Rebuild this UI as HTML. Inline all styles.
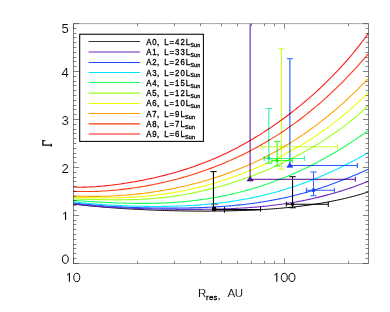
<!DOCTYPE html>
<html><head><meta charset="utf-8"><title>plot</title>
<style>
html,body{margin:0;padding:0;background:#fff;}
body{width:390px;height:312px;overflow:hidden;font-family:"Liberation Sans",sans-serif;}
svg{display:block;}
text{font-family:"Liberation Sans",sans-serif;fill:#000;}
</style></head><body>
<svg width="390" height="312" viewBox="0 0 390 312">
<rect width="390" height="312" fill="#fff"/>
<defs><filter id="gs" x="-5%" y="-5%" width="110%" height="110%" color-interpolation-filters="sRGB"><feColorMatrix type="saturate" values="1"/></filter><clipPath id="pc"><rect x="73.20" y="23.70" width="295.30" height="239.70"/></clipPath></defs>

<path d="M73.5,23.6 H368.5 M73.5,263.5 H368.5" fill="none" stroke="#777" stroke-width="0.65"/>
<path d="M73.5,23.6 V263.5 M368.5,23.6 V263.5" fill="none" stroke="#4a4a4a" stroke-width="0.7"/>
<path d="M73.5,263.50 h5.6 M368.5,263.50 h-5.6 M73.5,258.50 h2.9 M368.5,258.50 h-2.9 M73.5,253.50 h2.9 M368.5,253.50 h-2.9 M73.5,248.50 h2.9 M368.5,248.50 h-2.9 M73.5,244.50 h2.9 M368.5,244.50 h-2.9 M73.5,239.50 h2.9 M368.5,239.50 h-2.9 M73.5,234.50 h2.9 M368.5,234.50 h-2.9 M73.5,229.50 h2.9 M368.5,229.50 h-2.9 M73.5,224.50 h2.9 M368.5,224.50 h-2.9 M73.5,220.50 h2.9 M368.5,220.50 h-2.9 M73.5,215.50 h5.6 M368.5,215.50 h-5.6 M73.5,210.50 h2.9 M368.5,210.50 h-2.9 M73.5,205.50 h2.9 M368.5,205.50 h-2.9 M73.5,200.50 h2.9 M368.5,200.50 h-2.9 M73.5,196.50 h2.9 M368.5,196.50 h-2.9 M73.5,191.50 h2.9 M368.5,191.50 h-2.9 M73.5,186.50 h2.9 M368.5,186.50 h-2.9 M73.5,181.50 h2.9 M368.5,181.50 h-2.9 M73.5,177.50 h2.9 M368.5,177.50 h-2.9 M73.5,172.50 h2.9 M368.5,172.50 h-2.9 M73.5,167.50 h5.6 M368.5,167.50 h-5.6 M73.5,162.50 h2.9 M368.5,162.50 h-2.9 M73.5,157.50 h2.9 M368.5,157.50 h-2.9 M73.5,153.50 h2.9 M368.5,153.50 h-2.9 M73.5,148.50 h2.9 M368.5,148.50 h-2.9 M73.5,143.50 h2.9 M368.5,143.50 h-2.9 M73.5,138.50 h2.9 M368.5,138.50 h-2.9 M73.5,133.50 h2.9 M368.5,133.50 h-2.9 M73.5,129.50 h2.9 M368.5,129.50 h-2.9 M73.5,124.50 h2.9 M368.5,124.50 h-2.9 M73.5,119.50 h5.6 M368.5,119.50 h-5.6 M73.5,114.50 h2.9 M368.5,114.50 h-2.9 M73.5,109.50 h2.9 M368.5,109.50 h-2.9 M73.5,105.50 h2.9 M368.5,105.50 h-2.9 M73.5,100.50 h2.9 M368.5,100.50 h-2.9 M73.5,95.50 h2.9 M368.5,95.50 h-2.9 M73.5,90.50 h2.9 M368.5,90.50 h-2.9 M73.5,85.50 h2.9 M368.5,85.50 h-2.9 M73.5,81.50 h2.9 M368.5,81.50 h-2.9 M73.5,76.50 h2.9 M368.5,76.50 h-2.9 M73.5,71.50 h5.6 M368.5,71.50 h-5.6 M73.5,66.50 h2.9 M368.5,66.50 h-2.9 M73.5,61.50 h2.9 M368.5,61.50 h-2.9 M73.5,57.50 h2.9 M368.5,57.50 h-2.9 M73.5,52.50 h2.9 M368.5,52.50 h-2.9 M73.5,47.50 h2.9 M368.5,47.50 h-2.9 M73.5,42.50 h2.9 M368.5,42.50 h-2.9 M73.5,37.50 h2.9 M368.5,37.50 h-2.9 M73.5,33.50 h2.9 M368.5,33.50 h-2.9 M73.5,28.50 h2.9 M368.5,28.50 h-2.9 M73.5,23.60 h5.6 M368.5,23.60 h-5.6 M73.50,263.5 v-5.2 M73.50,23.6 v5.2 M137.50,263.5 v-2.6 M137.50,23.6 v2.6 M174.50,263.5 v-2.6 M174.50,23.6 v2.6 M200.50,263.5 v-2.6 M200.50,23.6 v2.6 M221.50,263.5 v-2.6 M221.50,23.6 v2.6 M237.50,263.5 v-2.6 M237.50,23.6 v2.6 M251.50,263.5 v-2.6 M251.50,23.6 v2.6 M264.50,263.5 v-2.6 M264.50,23.6 v2.6 M274.50,263.5 v-2.6 M274.50,23.6 v2.6 M284.50,263.5 v-5.2 M284.50,23.6 v5.2 M348.50,263.5 v-2.6 M348.50,23.6 v2.6" stroke="#333" stroke-width="0.6" fill="none"/>
<g clip-path="url(#pc)">
<g stroke="#000" stroke-width="1.1" fill="none"><path d="M213.45,171.6 V209.4"/><path d="M210.35,171.6 H216.54999999999998" stroke-width="1.0"/></g>
<path d="M211.1,204.2 H218.1" stroke="#445" stroke-width="0.8"/>
<g stroke="#000" stroke-width="1.1" fill="none"><path d="M292.55,176.7 V204.25"/><path d="M289.35,176.7 H295.75" stroke-width="1.0"/><path d="M292.55,204.25 V207.8"/><path d="M289.35,207.8 H295.75" stroke-width="1.0"/></g>
<g stroke="#7a3aae" stroke-width="1.25" fill="none"><path d="M250.15,20 V179.3"/><path d="M250.15,179.3 H355.4"/><path d="M355.4,176.8 V181.8" stroke-width="1.25"/></g>
<g stroke="#2f58ff" stroke-width="1.15" fill="none"><path d="M289.85,165.5 H357.3"/><path d="M357.3,163.0 V168.0"/></g>
<g stroke="#5a82ff" stroke-width="1.5" fill="none"><path d="M289.85,58.6 V165.5"/><path d="M286.75,58.6 H292.95000000000005" stroke-width="1.2"/></g>
<g stroke="#2f60ff" stroke-width="1.05" fill="none"><path d="M313.5,172.0 V190.2"/><path d="M310.4,172.0 H316.6" stroke-width="1.05"/><path d="M313.5,190.2 V195.8"/><path d="M310.4,195.8 H316.6" stroke-width="1.05"/><path d="M306.4,190.2 H313.5"/><path d="M306.4,187.7 V192.7" stroke-width="1.05"/><path d="M313.5,190.2 H334.4"/><path d="M334.4,187.7 V192.7" stroke-width="1.05"/></g>
<g stroke="#35f2a6" stroke-width="1.12" fill="none"><path d="M268.85,108.5 V158.0"/><path d="M265.75,108.5 H271.95000000000005" stroke-width="1.12"/><path d="M268.85,158.0 V163.2"/><path d="M265.75,163.2 H271.95000000000005" stroke-width="1.12"/><path d="M264.2,158.45 H268.85"/><path d="M264.2,155.95 V160.95" stroke-width="1.12"/><path d="M268.85,158.45 H304.4"/><path d="M304.4,155.95 V160.95" stroke-width="1.12"/></g>
<g stroke="#2cff2c" stroke-width="1.12" fill="none"><path d="M277.15,141.5 V160.6"/><path d="M274.04999999999995,141.5 H280.25" stroke-width="1.12"/><path d="M277.15,160.6 V166.0"/><path d="M274.04999999999995,166.0 H280.25" stroke-width="1.12"/><path d="M271.9,160.5 H277.15"/><path d="M271.9,158.0 V163.0" stroke-width="1.12"/><path d="M277.15,160.5 H292.4"/><path d="M292.4,158.0 V163.0" stroke-width="1.12"/></g>
<g stroke="#c8ff2a" stroke-width="1.05" fill="none"><path d="M281.45,48.7 V146.8"/><path d="M278.34999999999997,48.7 H284.55" stroke-width="1.05"/><path d="M281.45,146.8 V169.15"/><path d="M278.34999999999997,169.15 H284.55" stroke-width="1.05"/><path d="M261.6,146.8 H281.45"/><path d="M261.6,144.3 V149.3" stroke-width="1.05"/><path d="M281.45,146.8 H337.4"/><path d="M337.4,144.3 V149.3" stroke-width="1.05"/></g>
</g>
<g clip-path="url(#pc)" fill="none" stroke-linejoin="round" style="mix-blend-mode:multiply">
<path d="M73.20,204.08 L75.18,204.31 L77.16,204.54 L79.15,204.76 L81.13,204.97 L83.11,205.19 L85.09,205.39 L87.07,205.59 L89.06,205.79 L91.04,205.98 L93.02,206.17 L95.00,206.36 L96.98,206.54 L98.96,206.71 L100.95,206.88 L102.93,207.05 L104.91,207.21 L106.89,207.37 L108.87,207.53 L110.86,207.68 L112.84,207.83 L114.82,207.97 L116.80,208.11 L118.78,208.25 L120.77,208.38 L122.75,208.51 L124.73,208.63 L126.71,208.76 L128.69,208.87 L130.67,208.99 L132.66,209.10 L134.64,209.21 L136.62,209.32 L138.60,209.42 L140.58,209.52 L142.57,209.61 L144.55,209.71 L146.53,209.80 L148.51,209.88 L150.49,209.97 L152.48,210.05 L154.46,210.12 L156.44,210.20 L158.42,210.27 L160.40,210.34 L162.38,210.40 L164.37,210.47 L166.35,210.52 L168.33,210.58 L170.31,210.63 L172.29,210.69 L174.28,210.73 L176.26,210.78 L178.24,210.82 L180.22,210.86 L182.20,210.90 L184.19,210.93 L186.17,210.96 L188.15,210.99 L190.13,211.01 L192.11,211.03 L194.09,211.05 L196.08,211.07 L198.06,211.08 L200.04,211.09 L202.02,211.09 L204.00,211.10 L205.99,211.09 L207.97,211.09 L209.95,211.08 L211.93,211.07 L213.91,211.06 L215.90,211.04 L217.88,211.02 L219.86,211.00 L221.84,210.97 L223.82,210.94 L225.80,210.91 L227.79,210.87 L229.77,210.83 L231.75,210.78 L233.73,210.73 L235.71,210.68 L237.70,210.62 L239.68,210.56 L241.66,210.50 L243.64,210.43 L245.62,210.35 L247.61,210.27 L249.59,210.19 L251.57,210.10 L253.55,210.01 L255.53,209.91 L257.51,209.81 L259.50,209.70 L261.48,209.59 L263.46,209.47 L265.44,209.35 L267.42,209.22 L269.41,209.09 L271.39,208.95 L273.37,208.80 L275.35,208.65 L277.33,208.50 L279.32,208.33 L281.30,208.16 L283.28,207.99 L285.26,207.81 L287.24,207.62 L289.22,207.42 L291.21,207.22 L293.19,207.01 L295.17,206.79 L297.15,206.57 L299.13,206.33 L301.12,206.09 L303.10,205.84 L305.08,205.59 L307.06,205.32 L309.04,205.05 L311.03,204.77 L313.01,204.48 L314.99,204.18 L316.97,203.87 L318.95,203.55 L320.93,203.22 L322.92,202.89 L324.90,202.54 L326.88,202.18 L328.86,201.81 L330.84,201.43 L332.83,201.04 L334.81,200.64 L336.79,200.23 L338.77,199.81 L340.75,199.37 L342.74,198.93 L344.72,198.47 L346.70,197.99 L348.68,197.51 L350.66,197.01 L352.64,196.50 L354.63,195.97 L356.61,195.44 L358.59,194.88 L360.57,194.32 L362.55,193.74 L364.54,193.14 L366.52,192.53 L368.50,191.90" stroke="#000000" stroke-width="1.0"/>
<path d="M73.20,203.47 L75.18,203.75 L77.16,204.02 L79.15,204.28 L81.13,204.53 L83.11,204.77 L85.09,205.00 L87.07,205.22 L89.06,205.43 L91.04,205.63 L93.02,205.82 L95.00,206.00 L96.98,206.18 L98.96,206.34 L100.95,206.50 L102.93,206.66 L104.91,206.81 L106.89,206.95 L108.87,207.08 L110.86,207.21 L112.84,207.33 L114.82,207.45 L116.80,207.56 L118.78,207.67 L120.77,207.78 L122.75,207.87 L124.73,207.97 L126.71,208.06 L128.69,208.15 L130.67,208.23 L132.66,208.31 L134.64,208.39 L136.62,208.46 L138.60,208.53 L140.58,208.60 L142.57,208.66 L144.55,208.72 L146.53,208.78 L148.51,208.83 L150.49,208.89 L152.48,208.94 L154.46,208.98 L156.44,209.03 L158.42,209.07 L160.40,209.11 L162.38,209.15 L164.37,209.18 L166.35,209.22 L168.33,209.25 L170.31,209.27 L172.29,209.30 L174.28,209.32 L176.26,209.34 L178.24,209.36 L180.22,209.38 L182.20,209.39 L184.19,209.40 L186.17,209.41 L188.15,209.41 L190.13,209.41 L192.11,209.41 L194.09,209.40 L196.08,209.40 L198.06,209.39 L200.04,209.37 L202.02,209.35 L204.00,209.33 L205.99,209.31 L207.97,209.28 L209.95,209.25 L211.93,209.21 L213.91,209.17 L215.90,209.12 L217.88,209.07 L219.86,209.02 L221.84,208.96 L223.82,208.90 L225.80,208.83 L227.79,208.75 L229.77,208.67 L231.75,208.59 L233.73,208.50 L235.71,208.40 L237.70,208.30 L239.68,208.20 L241.66,208.08 L243.64,207.96 L245.62,207.84 L247.61,207.70 L249.59,207.56 L251.57,207.41 L253.55,207.26 L255.53,207.10 L257.51,206.93 L259.50,206.75 L261.48,206.57 L263.46,206.38 L265.44,206.18 L267.42,205.97 L269.41,205.75 L271.39,205.52 L273.37,205.29 L275.35,205.04 L277.33,204.79 L279.32,204.53 L281.30,204.26 L283.28,203.98 L285.26,203.69 L287.24,203.39 L289.22,203.08 L291.21,202.75 L293.19,202.42 L295.17,202.08 L297.15,201.73 L299.13,201.37 L301.12,200.99 L303.10,200.61 L305.08,200.21 L307.06,199.81 L309.04,199.39 L311.03,198.96 L313.01,198.52 L314.99,198.07 L316.97,197.61 L318.95,197.13 L320.93,196.64 L322.92,196.14 L324.90,195.63 L326.88,195.11 L328.86,194.57 L330.84,194.03 L332.83,193.47 L334.81,192.90 L336.79,192.31 L338.77,191.72 L340.75,191.11 L342.74,190.49 L344.72,189.85 L346.70,189.21 L348.68,188.55 L350.66,187.88 L352.64,187.20 L354.63,186.50 L356.61,185.79 L358.59,185.07 L360.57,184.34 L362.55,183.60 L364.54,182.84 L366.52,182.07 L368.50,181.29" stroke="#6d28c0" stroke-width="1.08"/>
<path d="M73.20,202.67 L75.18,202.94 L77.16,203.20 L79.15,203.46 L81.13,203.70 L83.11,203.93 L85.09,204.15 L87.07,204.37 L89.06,204.57 L91.04,204.77 L93.02,204.96 L95.00,205.14 L96.98,205.31 L98.96,205.48 L100.95,205.64 L102.93,205.79 L104.91,205.94 L106.89,206.08 L108.87,206.22 L110.86,206.34 L112.84,206.47 L114.82,206.58 L116.80,206.70 L118.78,206.80 L120.77,206.91 L122.75,207.01 L124.73,207.10 L126.71,207.19 L128.69,207.27 L130.67,207.35 L132.66,207.43 L134.64,207.50 L136.62,207.57 L138.60,207.63 L140.58,207.69 L142.57,207.74 L144.55,207.80 L146.53,207.84 L148.51,207.89 L150.49,207.93 L152.48,207.96 L154.46,208.00 L156.44,208.03 L158.42,208.05 L160.40,208.07 L162.38,208.09 L164.37,208.10 L166.35,208.11 L168.33,208.12 L170.31,208.12 L172.29,208.12 L174.28,208.11 L176.26,208.10 L178.24,208.08 L180.22,208.06 L182.20,208.04 L184.19,208.01 L186.17,207.98 L188.15,207.94 L190.13,207.90 L192.11,207.85 L194.09,207.80 L196.08,207.74 L198.06,207.68 L200.04,207.61 L202.02,207.54 L204.00,207.46 L205.99,207.37 L207.97,207.28 L209.95,207.18 L211.93,207.08 L213.91,206.97 L215.90,206.85 L217.88,206.73 L219.86,206.60 L221.84,206.46 L223.82,206.32 L225.80,206.17 L227.79,206.01 L229.77,205.85 L231.75,205.67 L233.73,205.49 L235.71,205.30 L237.70,205.11 L239.68,204.90 L241.66,204.69 L243.64,204.47 L245.62,204.24 L247.61,204.00 L249.59,203.75 L251.57,203.49 L253.55,203.23 L255.53,202.95 L257.51,202.67 L259.50,202.37 L261.48,202.07 L263.46,201.75 L265.44,201.43 L267.42,201.09 L269.41,200.75 L271.39,200.39 L273.37,200.03 L275.35,199.65 L277.33,199.27 L279.32,198.87 L281.30,198.46 L283.28,198.04 L285.26,197.61 L287.24,197.17 L289.22,196.71 L291.21,196.25 L293.19,195.77 L295.17,195.29 L297.15,194.79 L299.13,194.28 L301.12,193.75 L303.10,193.22 L305.08,192.68 L307.06,192.12 L309.04,191.55 L311.03,190.97 L313.01,190.38 L314.99,189.77 L316.97,189.15 L318.95,188.53 L320.93,187.89 L322.92,187.23 L324.90,186.57 L326.88,185.90 L328.86,185.21 L330.84,184.51 L332.83,183.80 L334.81,183.08 L336.79,182.35 L338.77,181.60 L340.75,180.85 L342.74,180.08 L344.72,179.31 L346.70,178.52 L348.68,177.72 L350.66,176.91 L352.64,176.09 L354.63,175.26 L356.61,174.42 L358.59,173.57 L360.57,172.72 L362.55,171.85 L364.54,170.97 L366.52,170.09 L368.50,169.19" stroke="#1f4dff" stroke-width="1.08"/>
<path d="M73.20,201.89 L75.18,202.11 L77.16,202.32 L79.15,202.52 L81.13,202.72 L83.11,202.92 L85.09,203.10 L87.07,203.29 L89.06,203.46 L91.04,203.63 L93.02,203.80 L95.00,203.96 L96.98,204.11 L98.96,204.26 L100.95,204.41 L102.93,204.55 L104.91,204.68 L106.89,204.81 L108.87,204.94 L110.86,205.06 L112.84,205.17 L114.82,205.28 L116.80,205.39 L118.78,205.49 L120.77,205.58 L122.75,205.68 L124.73,205.76 L126.71,205.84 L128.69,205.92 L130.67,205.99 L132.66,206.05 L134.64,206.12 L136.62,206.17 L138.60,206.22 L140.58,206.27 L142.57,206.31 L144.55,206.34 L146.53,206.37 L148.51,206.40 L150.49,206.42 L152.48,206.43 L154.46,206.44 L156.44,206.44 L158.42,206.44 L160.40,206.43 L162.38,206.41 L164.37,206.39 L166.35,206.37 L168.33,206.33 L170.31,206.29 L172.29,206.25 L174.28,206.20 L176.26,206.14 L178.24,206.07 L180.22,206.00 L182.20,205.92 L184.19,205.83 L186.17,205.74 L188.15,205.64 L190.13,205.53 L192.11,205.42 L194.09,205.29 L196.08,205.16 L198.06,205.03 L200.04,204.88 L202.02,204.72 L204.00,204.56 L205.99,204.39 L207.97,204.21 L209.95,204.02 L211.93,203.83 L213.91,203.62 L215.90,203.41 L217.88,203.18 L219.86,202.95 L221.84,202.71 L223.82,202.46 L225.80,202.20 L227.79,201.93 L229.77,201.65 L231.75,201.36 L233.73,201.06 L235.71,200.75 L237.70,200.43 L239.68,200.09 L241.66,199.75 L243.64,199.40 L245.62,199.04 L247.61,198.66 L249.59,198.28 L251.57,197.88 L253.55,197.47 L255.53,197.06 L257.51,196.63 L259.50,196.18 L261.48,195.73 L263.46,195.27 L265.44,194.79 L267.42,194.30 L269.41,193.80 L271.39,193.29 L273.37,192.76 L275.35,192.22 L277.33,191.67 L279.32,191.11 L281.30,190.54 L283.28,189.95 L285.26,189.35 L287.24,188.74 L289.22,188.11 L291.21,187.47 L293.19,186.82 L295.17,186.16 L297.15,185.48 L299.13,184.79 L301.12,184.09 L303.10,183.37 L305.08,182.64 L307.06,181.90 L309.04,181.14 L311.03,180.37 L313.01,179.59 L314.99,178.80 L316.97,177.99 L318.95,177.17 L320.93,176.33 L322.92,175.48 L324.90,174.62 L326.88,173.75 L328.86,172.86 L330.84,171.96 L332.83,171.05 L334.81,170.12 L336.79,169.19 L338.77,168.23 L340.75,167.27 L342.74,166.29 L344.72,165.31 L346.70,164.30 L348.68,163.29 L350.66,162.26 L352.64,161.23 L354.63,160.18 L356.61,159.11 L358.59,158.04 L360.57,156.95 L362.55,155.86 L364.54,154.75 L366.52,153.63 L368.50,152.50" stroke="#00e6ff" stroke-width="1.08"/>
<path d="M73.20,200.40 L75.18,200.53 L77.16,200.66 L79.15,200.79 L81.13,200.92 L83.11,201.05 L85.09,201.17 L87.07,201.30 L89.06,201.42 L91.04,201.54 L93.02,201.66 L95.00,201.78 L96.98,201.90 L98.96,202.01 L100.95,202.12 L102.93,202.23 L104.91,202.33 L106.89,202.43 L108.87,202.53 L110.86,202.62 L112.84,202.71 L114.82,202.79 L116.80,202.87 L118.78,202.95 L120.77,203.02 L122.75,203.08 L124.73,203.14 L126.71,203.19 L128.69,203.24 L130.67,203.28 L132.66,203.32 L134.64,203.35 L136.62,203.37 L138.60,203.39 L140.58,203.40 L142.57,203.40 L144.55,203.40 L146.53,203.39 L148.51,203.37 L150.49,203.34 L152.48,203.31 L154.46,203.27 L156.44,203.22 L158.42,203.16 L160.40,203.10 L162.38,203.02 L164.37,202.94 L166.35,202.85 L168.33,202.75 L170.31,202.64 L172.29,202.52 L174.28,202.39 L176.26,202.26 L178.24,202.11 L180.22,201.95 L182.20,201.79 L184.19,201.61 L186.17,201.43 L188.15,201.23 L190.13,201.02 L192.11,200.81 L194.09,200.58 L196.08,200.34 L198.06,200.09 L200.04,199.83 L202.02,199.56 L204.00,199.28 L205.99,198.99 L207.97,198.69 L209.95,198.37 L211.93,198.05 L213.91,197.71 L215.90,197.36 L217.88,197.00 L219.86,196.62 L221.84,196.24 L223.82,195.84 L225.80,195.43 L227.79,195.01 L229.77,194.58 L231.75,194.13 L233.73,193.68 L235.71,193.21 L237.70,192.72 L239.68,192.23 L241.66,191.72 L243.64,191.20 L245.62,190.66 L247.61,190.12 L249.59,189.56 L251.57,188.99 L253.55,188.40 L255.53,187.80 L257.51,187.19 L259.50,186.56 L261.48,185.93 L263.46,185.27 L265.44,184.61 L267.42,183.93 L269.41,183.24 L271.39,182.53 L273.37,181.81 L275.35,181.08 L277.33,180.33 L279.32,179.57 L281.30,178.79 L283.28,178.01 L285.26,177.20 L287.24,176.39 L289.22,175.56 L291.21,174.71 L293.19,173.85 L295.17,172.98 L297.15,172.09 L299.13,171.19 L301.12,170.28 L303.10,169.35 L305.08,168.40 L307.06,167.44 L309.04,166.47 L311.03,165.48 L313.01,164.48 L314.99,163.47 L316.97,162.44 L318.95,161.39 L320.93,160.33 L322.92,159.26 L324.90,158.17 L326.88,157.07 L328.86,155.95 L330.84,154.82 L332.83,153.67 L334.81,152.51 L336.79,151.33 L338.77,150.14 L340.75,148.93 L342.74,147.71 L344.72,146.48 L346.70,145.23 L348.68,143.96 L350.66,142.68 L352.64,141.39 L354.63,140.08 L356.61,138.76 L358.59,137.42 L360.57,136.07 L362.55,134.70 L364.54,133.31 L366.52,131.92 L368.50,130.50" stroke="#19ff59" stroke-width="1.08"/>
<path d="M73.20,198.91 L75.18,198.95 L77.16,199.00 L79.15,199.05 L81.13,199.10 L83.11,199.15 L85.09,199.21 L87.07,199.27 L89.06,199.32 L91.04,199.38 L93.02,199.43 L95.00,199.49 L96.98,199.54 L98.96,199.59 L100.95,199.64 L102.93,199.68 L104.91,199.72 L106.89,199.76 L108.87,199.79 L110.86,199.81 L112.84,199.83 L114.82,199.85 L116.80,199.85 L118.78,199.85 L120.77,199.85 L122.75,199.83 L124.73,199.81 L126.71,199.78 L128.69,199.75 L130.67,199.70 L132.66,199.65 L134.64,199.58 L136.62,199.51 L138.60,199.43 L140.58,199.33 L142.57,199.23 L144.55,199.12 L146.53,199.00 L148.51,198.87 L150.49,198.72 L152.48,198.57 L154.46,198.40 L156.44,198.23 L158.42,198.04 L160.40,197.85 L162.38,197.64 L164.37,197.42 L166.35,197.19 L168.33,196.94 L170.31,196.69 L172.29,196.42 L174.28,196.14 L176.26,195.86 L178.24,195.55 L180.22,195.24 L182.20,194.92 L184.19,194.58 L186.17,194.23 L188.15,193.87 L190.13,193.50 L192.11,193.12 L194.09,192.72 L196.08,192.31 L198.06,191.90 L200.04,191.46 L202.02,191.02 L204.00,190.57 L205.99,190.10 L207.97,189.62 L209.95,189.13 L211.93,188.63 L213.91,188.12 L215.90,187.59 L217.88,187.05 L219.86,186.51 L221.84,185.95 L223.82,185.37 L225.80,184.79 L227.79,184.19 L229.77,183.59 L231.75,182.97 L233.73,182.34 L235.71,181.70 L237.70,181.04 L239.68,180.38 L241.66,179.70 L243.64,179.01 L245.62,178.31 L247.61,177.60 L249.59,176.88 L251.57,176.14 L253.55,175.39 L255.53,174.63 L257.51,173.86 L259.50,173.08 L261.48,172.28 L263.46,171.48 L265.44,170.66 L267.42,169.82 L269.41,168.98 L271.39,168.12 L273.37,167.25 L275.35,166.37 L277.33,165.48 L279.32,164.57 L281.30,163.65 L283.28,162.71 L285.26,161.76 L287.24,160.80 L289.22,159.83 L291.21,158.84 L293.19,157.83 L295.17,156.81 L297.15,155.78 L299.13,154.73 L301.12,153.67 L303.10,152.59 L305.08,151.49 L307.06,150.38 L309.04,149.25 L311.03,148.11 L313.01,146.94 L314.99,145.76 L316.97,144.57 L318.95,143.35 L320.93,142.11 L322.92,140.86 L324.90,139.58 L326.88,138.29 L328.86,136.97 L330.84,135.64 L332.83,134.28 L334.81,132.90 L336.79,131.49 L338.77,130.07 L340.75,128.62 L342.74,127.14 L344.72,125.64 L346.70,124.11 L348.68,122.56 L350.66,120.98 L352.64,119.37 L354.63,117.73 L356.61,116.07 L358.59,114.37 L360.57,112.64 L362.55,110.88 L364.54,109.09 L366.52,107.26 L368.50,105.40" stroke="#99ff1a" stroke-width="1.08"/>
<path d="M73.20,197.31 L75.18,197.36 L77.16,197.42 L79.15,197.46 L81.13,197.51 L83.11,197.56 L85.09,197.60 L87.07,197.65 L89.06,197.69 L91.04,197.72 L93.02,197.75 L95.00,197.78 L96.98,197.80 L98.96,197.82 L100.95,197.83 L102.93,197.84 L104.91,197.84 L106.89,197.84 L108.87,197.83 L110.86,197.81 L112.84,197.79 L114.82,197.75 L116.80,197.71 L118.78,197.67 L120.77,197.61 L122.75,197.55 L124.73,197.47 L126.71,197.39 L128.69,197.30 L130.67,197.20 L132.66,197.09 L134.64,196.98 L136.62,196.85 L138.60,196.71 L140.58,196.57 L142.57,196.41 L144.55,196.24 L146.53,196.06 L148.51,195.87 L150.49,195.68 L152.48,195.47 L154.46,195.24 L156.44,195.01 L158.42,194.77 L160.40,194.52 L162.38,194.25 L164.37,193.98 L166.35,193.69 L168.33,193.39 L170.31,193.08 L172.29,192.76 L174.28,192.43 L176.26,192.08 L178.24,191.72 L180.22,191.36 L182.20,190.98 L184.19,190.58 L186.17,190.18 L188.15,189.76 L190.13,189.34 L192.11,188.90 L194.09,188.44 L196.08,187.98 L198.06,187.51 L200.04,187.02 L202.02,186.52 L204.00,186.01 L205.99,185.48 L207.97,184.94 L209.95,184.40 L211.93,183.83 L213.91,183.26 L215.90,182.68 L217.88,182.08 L219.86,181.47 L221.84,180.85 L223.82,180.21 L225.80,179.56 L227.79,178.90 L229.77,178.23 L231.75,177.55 L233.73,176.85 L235.71,176.14 L237.70,175.42 L239.68,174.68 L241.66,173.93 L243.64,173.17 L245.62,172.40 L247.61,171.61 L249.59,170.81 L251.57,170.00 L253.55,169.17 L255.53,168.33 L257.51,167.48 L259.50,166.61 L261.48,165.73 L263.46,164.84 L265.44,163.93 L267.42,163.01 L269.41,162.08 L271.39,161.13 L273.37,160.17 L275.35,159.19 L277.33,158.20 L279.32,157.19 L281.30,156.17 L283.28,155.13 L285.26,154.08 L287.24,153.01 L289.22,151.93 L291.21,150.83 L293.19,149.72 L295.17,148.59 L297.15,147.44 L299.13,146.28 L301.12,145.10 L303.10,143.90 L305.08,142.69 L307.06,141.46 L309.04,140.20 L311.03,138.94 L313.01,137.65 L314.99,136.34 L316.97,135.02 L318.95,133.67 L320.93,132.31 L322.92,130.92 L324.90,129.52 L326.88,128.09 L328.86,126.64 L330.84,125.17 L332.83,123.68 L334.81,122.16 L336.79,120.62 L338.77,119.06 L340.75,117.47 L342.74,115.86 L344.72,114.22 L346.70,112.56 L348.68,110.87 L350.66,109.16 L352.64,107.41 L354.63,105.64 L356.61,103.84 L358.59,102.01 L360.57,100.15 L362.55,98.26 L364.54,96.34 L366.52,94.39 L368.50,92.40" stroke="#eaff00" stroke-width="1.08"/>
<path d="M73.20,195.81 L75.18,195.92 L77.16,196.01 L79.15,196.10 L81.13,196.17 L83.11,196.23 L85.09,196.28 L87.07,196.32 L89.06,196.35 L91.04,196.37 L93.02,196.38 L95.00,196.38 L96.98,196.37 L98.96,196.35 L100.95,196.32 L102.93,196.28 L104.91,196.23 L106.89,196.17 L108.87,196.10 L110.86,196.02 L112.84,195.93 L114.82,195.83 L116.80,195.72 L118.78,195.60 L120.77,195.47 L122.75,195.33 L124.73,195.18 L126.71,195.03 L128.69,194.86 L130.67,194.68 L132.66,194.50 L134.64,194.30 L136.62,194.10 L138.60,193.88 L140.58,193.66 L142.57,193.42 L144.55,193.18 L146.53,192.92 L148.51,192.66 L150.49,192.39 L152.48,192.10 L154.46,191.81 L156.44,191.51 L158.42,191.20 L160.40,190.87 L162.38,190.54 L164.37,190.20 L166.35,189.84 L168.33,189.48 L170.31,189.11 L172.29,188.72 L174.28,188.33 L176.26,187.92 L178.24,187.51 L180.22,187.08 L182.20,186.64 L184.19,186.19 L186.17,185.74 L188.15,185.26 L190.13,184.78 L192.11,184.29 L194.09,183.79 L196.08,183.27 L198.06,182.74 L200.04,182.20 L202.02,181.65 L204.00,181.09 L205.99,180.51 L207.97,179.92 L209.95,179.32 L211.93,178.71 L213.91,178.09 L215.90,177.45 L217.88,176.80 L219.86,176.13 L221.84,175.46 L223.82,174.77 L225.80,174.06 L227.79,173.35 L229.77,172.62 L231.75,171.87 L233.73,171.11 L235.71,170.34 L237.70,169.56 L239.68,168.75 L241.66,167.94 L243.64,167.11 L245.62,166.26 L247.61,165.40 L249.59,164.53 L251.57,163.64 L253.55,162.73 L255.53,161.81 L257.51,160.87 L259.50,159.92 L261.48,158.95 L263.46,157.96 L265.44,156.96 L267.42,155.94 L269.41,154.91 L271.39,153.85 L273.37,152.79 L275.35,151.70 L277.33,150.60 L279.32,149.47 L281.30,148.33 L283.28,147.18 L285.26,146.00 L287.24,144.81 L289.22,143.60 L291.21,142.37 L293.19,141.12 L295.17,139.85 L297.15,138.57 L299.13,137.26 L301.12,135.94 L303.10,134.59 L305.08,133.23 L307.06,131.84 L309.04,130.44 L311.03,129.02 L313.01,127.57 L314.99,126.11 L316.97,124.62 L318.95,123.12 L320.93,121.59 L322.92,120.04 L324.90,118.47 L326.88,116.88 L328.86,115.27 L330.84,113.64 L332.83,111.98 L334.81,110.31 L336.79,108.61 L338.77,106.89 L340.75,105.14 L342.74,103.37 L344.72,101.59 L346.70,99.77 L348.68,97.94 L350.66,96.08 L352.64,94.20 L354.63,92.30 L356.61,90.37 L358.59,88.42 L360.57,86.44 L362.55,84.44 L364.54,82.42 L366.52,80.37 L368.50,78.30" stroke="#ffa000" stroke-width="1.08"/>
<path d="M73.20,191.30 L75.18,191.38 L77.16,191.45 L79.15,191.50 L81.13,191.53 L83.11,191.56 L85.09,191.57 L87.07,191.56 L89.06,191.55 L91.04,191.52 L93.02,191.47 L95.00,191.42 L96.98,191.35 L98.96,191.27 L100.95,191.17 L102.93,191.07 L104.91,190.95 L106.89,190.82 L108.87,190.68 L110.86,190.53 L112.84,190.36 L114.82,190.19 L116.80,190.00 L118.78,189.80 L120.77,189.59 L122.75,189.37 L124.73,189.14 L126.71,188.89 L128.69,188.64 L130.67,188.37 L132.66,188.09 L134.64,187.81 L136.62,187.51 L138.60,187.20 L140.58,186.88 L142.57,186.55 L144.55,186.21 L146.53,185.85 L148.51,185.49 L150.49,185.11 L152.48,184.73 L154.46,184.33 L156.44,183.93 L158.42,183.51 L160.40,183.08 L162.38,182.64 L164.37,182.19 L166.35,181.72 L168.33,181.25 L170.31,180.77 L172.29,180.27 L174.28,179.76 L176.26,179.25 L178.24,178.72 L180.22,178.18 L182.20,177.62 L184.19,177.06 L186.17,176.48 L188.15,175.90 L190.13,175.30 L192.11,174.68 L194.09,174.06 L196.08,173.42 L198.06,172.77 L200.04,172.11 L202.02,171.44 L204.00,170.75 L205.99,170.06 L207.97,169.34 L209.95,168.62 L211.93,167.88 L213.91,167.13 L215.90,166.37 L217.88,165.59 L219.86,164.79 L221.84,163.99 L223.82,163.17 L225.80,162.34 L227.79,161.49 L229.77,160.62 L231.75,159.75 L233.73,158.85 L235.71,157.95 L237.70,157.03 L239.68,156.09 L241.66,155.14 L243.64,154.17 L245.62,153.18 L247.61,152.18 L249.59,151.17 L251.57,150.13 L253.55,149.09 L255.53,148.02 L257.51,146.94 L259.50,145.84 L261.48,144.72 L263.46,143.59 L265.44,142.44 L267.42,141.27 L269.41,140.08 L271.39,138.88 L273.37,137.65 L275.35,136.41 L277.33,135.15 L279.32,133.87 L281.30,132.57 L283.28,131.25 L285.26,129.92 L287.24,128.56 L289.22,127.18 L291.21,125.79 L293.19,124.37 L295.17,122.93 L297.15,121.47 L299.13,119.99 L301.12,118.49 L303.10,116.97 L305.08,115.43 L307.06,113.86 L309.04,112.28 L311.03,110.67 L313.01,109.04 L314.99,107.38 L316.97,105.71 L318.95,104.01 L320.93,102.29 L322.92,100.54 L324.90,98.78 L326.88,96.98 L328.86,95.17 L330.84,93.33 L332.83,91.46 L334.81,89.58 L336.79,87.66 L338.77,85.73 L340.75,83.76 L342.74,81.78 L344.72,79.76 L346.70,77.72 L348.68,75.66 L350.66,73.57 L352.64,71.45 L354.63,69.31 L356.61,67.14 L358.59,64.95 L360.57,62.72 L362.55,60.48 L364.54,58.20 L366.52,55.90 L368.50,53.57" stroke="#ff3a10" stroke-width="1.08"/>
<path d="M73.20,187.01 L75.18,187.08 L77.16,187.14 L79.15,187.17 L81.13,187.17 L83.11,187.16 L85.09,187.12 L87.07,187.07 L89.06,187.00 L91.04,186.91 L93.02,186.80 L95.00,186.68 L96.98,186.54 L98.96,186.39 L100.95,186.22 L102.93,186.04 L104.91,185.85 L106.89,185.65 L108.87,185.43 L110.86,185.21 L112.84,184.97 L114.82,184.72 L116.80,184.46 L118.78,184.19 L120.77,183.92 L122.75,183.63 L124.73,183.33 L126.71,183.02 L128.69,182.71 L130.67,182.38 L132.66,182.04 L134.64,181.70 L136.62,181.35 L138.60,180.98 L140.58,180.61 L142.57,180.23 L144.55,179.84 L146.53,179.43 L148.51,179.02 L150.49,178.60 L152.48,178.17 L154.46,177.73 L156.44,177.28 L158.42,176.81 L160.40,176.34 L162.38,175.86 L164.37,175.36 L166.35,174.86 L168.33,174.34 L170.31,173.81 L172.29,173.27 L174.28,172.71 L176.26,172.15 L178.24,171.57 L180.22,170.97 L182.20,170.37 L184.19,169.75 L186.17,169.12 L188.15,168.48 L190.13,167.82 L192.11,167.14 L194.09,166.46 L196.08,165.75 L198.06,165.04 L200.04,164.31 L202.02,163.56 L204.00,162.80 L205.99,162.02 L207.97,161.23 L209.95,160.42 L211.93,159.60 L213.91,158.76 L215.90,157.91 L217.88,157.04 L219.86,156.15 L221.84,155.24 L223.82,154.32 L225.80,153.39 L227.79,152.43 L229.77,151.46 L231.75,150.47 L233.73,149.47 L235.71,148.45 L237.70,147.41 L239.68,146.35 L241.66,145.28 L243.64,144.19 L245.62,143.08 L247.61,141.96 L249.59,140.82 L251.57,139.66 L253.55,138.48 L255.53,137.29 L257.51,136.07 L259.50,134.84 L261.48,133.60 L263.46,132.33 L265.44,131.05 L267.42,129.75 L269.41,128.43 L271.39,127.09 L273.37,125.74 L275.35,124.36 L277.33,122.97 L279.32,121.56 L281.30,120.13 L283.28,118.69 L285.26,117.22 L287.24,115.74 L289.22,114.24 L291.21,112.71 L293.19,111.17 L295.17,109.61 L297.15,108.03 L299.13,106.43 L301.12,104.81 L303.10,103.16 L305.08,101.50 L307.06,99.81 L309.04,98.11 L311.03,96.38 L313.01,94.63 L314.99,92.85 L316.97,91.05 L318.95,89.23 L320.93,87.38 L322.92,85.51 L324.90,83.61 L326.88,81.68 L328.86,79.73 L330.84,77.74 L332.83,75.73 L334.81,73.69 L336.79,71.61 L338.77,69.51 L340.75,67.37 L342.74,65.19 L344.72,62.98 L346.70,60.73 L348.68,58.44 L350.66,56.12 L352.64,53.75 L354.63,51.34 L356.61,48.88 L358.59,46.38 L360.57,43.83 L362.55,41.23 L364.54,38.57 L366.52,35.87 L368.50,33.10" stroke="#ff1a1a" stroke-width="1.08"/>
</g>
<g filter="url(#gs)">
<text transform="translate(68.9,32.8) scale(1.08,1)" font-size="12.2" text-anchor="end" stroke="#fff" stroke-width="0.12">5</text>
<text transform="translate(68.9,76.8) scale(1.08,1)" font-size="12.2" text-anchor="end" stroke="#fff" stroke-width="0.12">4</text>
<text transform="translate(68.9,124.7) scale(1.08,1)" font-size="12.2" text-anchor="end" stroke="#fff" stroke-width="0.12">3</text>
<text transform="translate(68.9,172.6) scale(1.08,1)" font-size="12.2" text-anchor="end" stroke="#fff" stroke-width="0.12">2</text>
<path d="M65.55,211.90 V220.00" fill="none" stroke="#000" stroke-width="1.1"/><path d="M63.15,213.90 Q64.65,213.40 65.85,212.00" fill="none" stroke="#000" stroke-width="0.95"/>
<ellipse cx="65.35" cy="259.2" rx="2.9" ry="4.15" fill="none" stroke="#000" stroke-width="1.0"/>
<path d="M69.40,273.00 V281.80" fill="none" stroke="#000" stroke-width="1.1"/><path d="M67.00,275.00 Q68.50,274.50 69.70,273.10" fill="none" stroke="#000" stroke-width="0.95"/>
<ellipse cx="76.75" cy="277.45" rx="3.0" ry="4.1" fill="none" stroke="#000" stroke-width="1.0"/>
<path d="M276.80,272.90 V281.80" fill="none" stroke="#000" stroke-width="1.1"/><path d="M274.40,274.90 Q275.90,274.40 277.10,273.00" fill="none" stroke="#000" stroke-width="0.95"/>
<ellipse cx="284.3" cy="277.4" rx="3.0" ry="4.1" fill="none" stroke="#000" stroke-width="1.0"/>
<ellipse cx="291.95" cy="277.4" rx="3.0" ry="4.1" fill="none" stroke="#000" stroke-width="1.0"/>
<text x="198.1" y="297.4" font-size="11.5" stroke="#fff" stroke-width="0.1">R</text>
<text x="206.0" y="300.35" font-size="7.8" stroke="#000" stroke-width="0.3" letter-spacing="0.3">res</text>
<text x="217.7" y="298.9" font-size="9.5" stroke="#000" stroke-width="0.15">,</text>
<text x="227.5" y="297.4" font-size="11.5" letter-spacing="-0.5" stroke="#fff" stroke-width="0.1">AU</text>
</g>
<g stroke="#000" fill="none" stroke-width="1.2"><path d="M213.45,209.65 H260.6"/><path d="M224.45,206.9 V212.7 M260.6,206.6 V211.6" stroke-width="1.0"/><path d="M286.3,204.25 H328.3"/><path d="M286.3,201.8 V206.6 M328.3,201.8 V207.0" stroke-width="1.0"/></g>
<g clip-path="url(#pc)"><path d="M250.15,176.60000000000002 L253.35,181.0 L246.95000000000002,181.0 Z" stroke="#4b1290" stroke-width="0.6" stroke-linejoin="round" fill="#4b1290"/><path d="M289.85,162.9 L292.85,167.3 L286.85,167.3 Z" stroke="#1c3cf0" stroke-width="0.6" stroke-linejoin="round" fill="#1c3cf0"/><circle cx="313.5" cy="190.2" r="1.9" stroke="none" fill="#1848ff"/><circle cx="268.85" cy="158.0" r="1.7" stroke="none" fill="#00e090"/><circle cx="277.15" cy="160.6" r="1.7" stroke="none" fill="#00f000"/><circle cx="281.45" cy="146.8" r="1.7" stroke="none" fill="#d0ff00"/></g>
<circle cx="214.1" cy="208.9" r="2.35" fill="#000"/><circle cx="292.5" cy="204.35" r="1.75" fill="#000"/>
<path d="M51.7,145.2 H42.9 V140.2" fill="none" stroke="#000" stroke-width="1.3"/>
<path d="M51.3,143.6 V146.8 M42.3,140.6 H45.3" fill="none" stroke="#000" stroke-width="1.0"/>
<rect x="79.7" y="34.25" width="123.7" height="107.15" fill="#fff" stroke="#000" stroke-width="1.05"/>
<g filter="url(#gs)">
<path d="M88.6,41.50 H140.1" stroke="#2a2a2a" stroke-width="0.95"/>
<text transform="translate(146.3,44.80) scale(0.84,1)" font-size="9.3" stroke="#000" stroke-width="0.34" letter-spacing="0.75">A0,</text>
<text transform="translate(164.2,44.80) scale(0.84,1)" font-size="9.3" stroke="#000" stroke-width="0.34" letter-spacing="1.2">L=42L</text>
<text transform="translate(190.3,46.70) scale(0.92,1)" font-size="5.9" stroke="#000" stroke-width="0.3" letter-spacing="0.22">Sun</text>
<path d="M88.6,52.00 H140.1" stroke="#6d28c0" stroke-width="1.05"/>
<text transform="translate(146.3,55.06) scale(0.84,1)" font-size="9.3" stroke="#000" stroke-width="0.34" letter-spacing="0.75">A1,</text>
<text transform="translate(164.2,55.06) scale(0.84,1)" font-size="9.3" stroke="#000" stroke-width="0.34" letter-spacing="1.2">L=33L</text>
<text transform="translate(190.3,56.96) scale(0.92,1)" font-size="5.9" stroke="#000" stroke-width="0.3" letter-spacing="0.22">Sun</text>
<path d="M88.6,62.45 H140.1" stroke="#1f4dff" stroke-width="1.05"/>
<text transform="translate(146.3,65.32) scale(0.84,1)" font-size="9.3" stroke="#000" stroke-width="0.34" letter-spacing="0.75">A2,</text>
<text transform="translate(164.2,65.32) scale(0.84,1)" font-size="9.3" stroke="#000" stroke-width="0.34" letter-spacing="1.2">L=26L</text>
<text transform="translate(190.3,67.22) scale(0.92,1)" font-size="5.9" stroke="#000" stroke-width="0.3" letter-spacing="0.22">Sun</text>
<path d="M88.6,72.45 H140.1" stroke="#00e6ff" stroke-width="1.05"/>
<text transform="translate(146.3,75.58) scale(0.84,1)" font-size="9.3" stroke="#000" stroke-width="0.34" letter-spacing="0.75">A3,</text>
<text transform="translate(164.2,75.58) scale(0.84,1)" font-size="9.3" stroke="#000" stroke-width="0.34" letter-spacing="1.2">L=20L</text>
<text transform="translate(190.3,77.48) scale(0.92,1)" font-size="5.9" stroke="#000" stroke-width="0.3" letter-spacing="0.22">Sun</text>
<path d="M88.6,82.50 H140.1" stroke="#19ff59" stroke-width="1.05"/>
<text transform="translate(146.3,85.84) scale(0.84,1)" font-size="9.3" stroke="#000" stroke-width="0.34" letter-spacing="0.75">A4,</text>
<text transform="translate(164.2,85.84) scale(0.84,1)" font-size="9.3" stroke="#000" stroke-width="0.34" letter-spacing="1.2">L=15L</text>
<text transform="translate(190.3,87.74) scale(0.92,1)" font-size="5.9" stroke="#000" stroke-width="0.3" letter-spacing="0.22">Sun</text>
<path d="M88.6,93.10 H140.1" stroke="#99ff1a" stroke-width="1.05"/>
<text transform="translate(146.3,96.10) scale(0.84,1)" font-size="9.3" stroke="#000" stroke-width="0.34" letter-spacing="0.75">A5,</text>
<text transform="translate(164.2,96.10) scale(0.84,1)" font-size="9.3" stroke="#000" stroke-width="0.34" letter-spacing="1.2">L=12L</text>
<text transform="translate(190.3,98.00) scale(0.92,1)" font-size="5.9" stroke="#000" stroke-width="0.3" letter-spacing="0.22">Sun</text>
<path d="M88.6,103.40 H140.1" stroke="#eaff00" stroke-width="1.05"/>
<text transform="translate(146.3,106.36) scale(0.84,1)" font-size="9.3" stroke="#000" stroke-width="0.34" letter-spacing="0.75">A6,</text>
<text transform="translate(164.2,106.36) scale(0.84,1)" font-size="9.3" stroke="#000" stroke-width="0.34" letter-spacing="1.2">L=10L</text>
<text transform="translate(190.3,108.26) scale(0.92,1)" font-size="5.9" stroke="#000" stroke-width="0.3" letter-spacing="0.22">Sun</text>
<path d="M88.6,113.50 H140.1" stroke="#ffa000" stroke-width="1.05"/>
<text transform="translate(146.3,116.62) scale(0.84,1)" font-size="9.3" stroke="#000" stroke-width="0.34" letter-spacing="0.75">A7,</text>
<text transform="translate(164.2,116.62) scale(0.84,1)" font-size="9.3" stroke="#000" stroke-width="0.34" letter-spacing="1.2">L=9L</text>
<text transform="translate(185.0,118.52) scale(0.92,1)" font-size="5.9" stroke="#000" stroke-width="0.3" letter-spacing="0.22">Sun</text>
<path d="M88.6,123.85 H140.1" stroke="#ff3a10" stroke-width="1.05"/>
<text transform="translate(146.3,126.88) scale(0.84,1)" font-size="9.3" stroke="#000" stroke-width="0.34" letter-spacing="0.75">A8,</text>
<text transform="translate(164.2,126.88) scale(0.84,1)" font-size="9.3" stroke="#000" stroke-width="0.34" letter-spacing="1.2">L=7L</text>
<text transform="translate(185.0,128.78) scale(0.92,1)" font-size="5.9" stroke="#000" stroke-width="0.3" letter-spacing="0.22">Sun</text>
<path d="M88.6,134.00 H140.1" stroke="#ff1a1a" stroke-width="1.05"/>
<text transform="translate(146.3,137.14) scale(0.84,1)" font-size="9.3" stroke="#000" stroke-width="0.34" letter-spacing="0.75">A9,</text>
<text transform="translate(164.2,137.14) scale(0.84,1)" font-size="9.3" stroke="#000" stroke-width="0.34" letter-spacing="1.2">L=6L</text>
<text transform="translate(185.0,139.04) scale(0.92,1)" font-size="5.9" stroke="#000" stroke-width="0.3" letter-spacing="0.22">Sun</text>
</g>
</svg></body></html>
